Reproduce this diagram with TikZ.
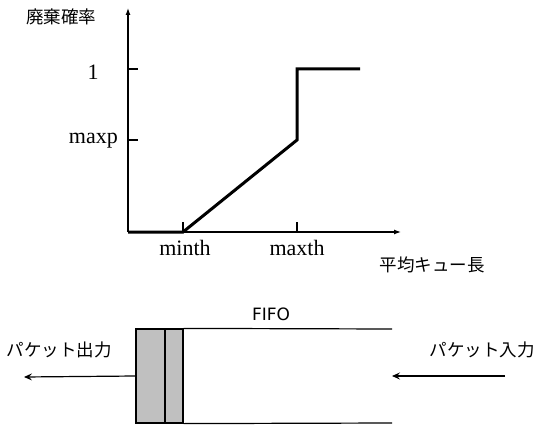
\documentclass[tikz,border=0pt]{standalone}
\usepackage{fontspec}
\setmainfont{Liberation Serif}
\newfontfamily\jpfont{Noto Sans CJK JP}
\newfontfamily\sansfont{DejaVu Sans}
\usetikzlibrary{arrows.meta}
\definecolor{cellgray}{HTML}{C0C0C0}
\tikzset{
  axis/.style={line width=1.2pt},
  curve/.style={line width=3pt, line join=miter},
  serlab/.style={font=\fontsize{22}{22}\selectfont, inner sep=0pt},
  jplab/.style={font=\jpfont\fontsize{17.5}{17.5}\selectfont, inner sep=0pt},
  cell/.style={draw, line width=1.2pt, fill=cellgray, minimum height=94pt, inner sep=0pt},
  flow/.style={line width=1.2pt, -{Stealth[length=8pt,width=7pt,inset=3pt]}},
}
\begin{document}
\begin{tikzpicture}[x=1pt,y=-1pt]
\useasboundingbox (0,0) rectangle (538,425);
% axes
\coordinate (O) at (128,232);
\coordinate (ytop) at (128,8);
\coordinate (xend) at (401,232);
\draw[axis,-{Latex[length=7pt,width=5pt]}] (O) -- (ytop);
\draw[axis,-{Latex[length=7pt,width=5pt]}] (O) -- (xend);
% ticks
\coordinate (t1a) at (128,69); \coordinate (t1b) at (138,69);
\coordinate (tpa) at (128,140); \coordinate (tpb) at (138,140);
\coordinate (tma) at (183,232); \coordinate (tmb) at (183,222);
\coordinate (txa) at (297,232); \coordinate (txb) at (297,222);
\draw[axis] (t1a) -- (t1b);
\draw[axis] (tpa) -- (tpb);
\draw[axis] (tma) -- (tmb);
\draw[axis] (txa) -- (txb);
% curve
\coordinate (c1) at (183,232);
\coordinate (c2) at (297,140);
\coordinate (c3) at (297,69);
\coordinate (c4) at (360,69);
\draw[curve] (O) -- (c1) -- (c2) -- (c3) -- (c4);
% labels
\node[jplab] (ylab) at (61,17) {廃棄確率};
\node[serlab] (one) at (93,72) {1};
\node[serlab, anchor=east] (maxp) at (118,141) {maxp};
\node[serlab] (minth) at (185,247.5) {minth};
\node[serlab] (maxth) at (297,247.5) {maxth};
\node[jplab] (xlab) at (432,265) {平均キュー長};
% FIFO
\node[font=\sansfont\fontsize{17}{17}\selectfont, inner sep=0pt] (fifo) at (271,314) {FIFO};
\node[cell, minimum width=29pt] (cellA) at (150.5,376) {};
\node[cell, minimum width=18pt] (cellB) at (174,376) {};
\coordinate (topEnd) at (392,329);
\coordinate (botEnd) at (392,423);
\draw[axis] (cellB.north east) -- (topEnd);
\draw[axis] (cellB.south east) -- (botEnd);
\node[jplab] (outlab) at (59,350) {パケット出力};
\node[jplab] (inlab) at (482,350) {パケット入力};
\coordinate (outEnd) at (24,377);
\coordinate (inStart) at (505,376);
\coordinate (inEnd) at (392,376);
\draw[flow] (cellA.west) -- (outEnd);
\draw[flow] (inStart) -- (inEnd);
\end{tikzpicture}
\end{document}
